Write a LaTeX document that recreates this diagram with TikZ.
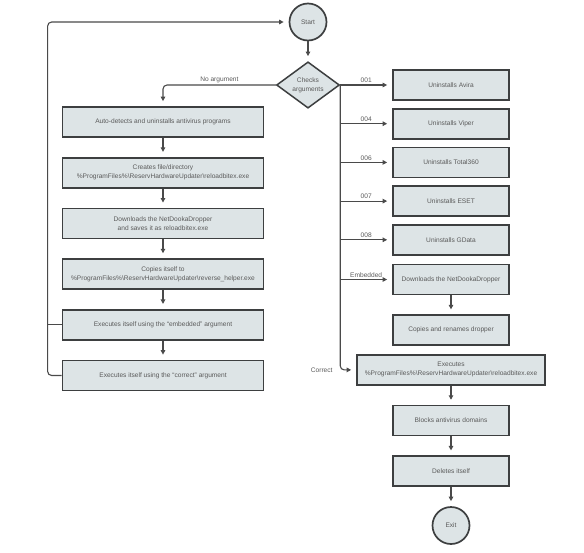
\documentclass[tikz,border=0pt]{standalone}
\usepackage{fontspec}
\setmainfont{Liberation Sans}
\usepackage{tikz}
\usetikzlibrary{arrows.meta,positioning,shapes.geometric}
\definecolor{boxline}{HTML}{3D3F40}
\definecolor{boxfill}{HTML}{DDE4E6}
\definecolor{linegray}{HTML}{4A4A4A}
\definecolor{txtgray}{HTML}{5A5A5A}
\newcommand{\tinyfont}{\fontsize{6.6}{9}\selectfont}
\tikzset{
  box/.style={
    rectangle,
    draw=boxline,
    fill=boxfill,
    line width=1.7pt,
    minimum width=201pt,
    minimum height=30pt,
    inner sep=1pt,
    align=center,
    text=txtgray,
    font=\tinyfont
  },
  smallbox/.style={box, minimum width=116pt},
  widebox/.style={box, minimum width=188pt},
  terminal/.style={
    circle,
    draw=boxline,
    fill=boxfill,
    line width=1.7pt,
    minimum size=37pt,
    inner sep=0pt,
    text=txtgray,
    font=\tinyfont
  },
  decision/.style={
    diamond,
    draw=boxline,
    fill=boxfill,
    line width=1.5pt,
    minimum width=63pt,
    minimum height=41pt,
    inner sep=0pt,
    align=center,
    text=txtgray,
    font=\tinyfont
  },
  lbl/.style={inner sep=1.5pt, text=txtgray, font=\tinyfont},
  link/.style={line width=1.1pt, draw=linegray},
  arrow/.style={link, -{Triangle[length=4.5pt,width=4.5pt]}, shorten >=5pt}
}

\begin{document}
\begin{tikzpicture}[x=1pt, y=1pt, node distance=19pt]
\useasboundingbox (0,0) rectangle (584,-552);

\node[terminal] (start) at (308,-22) {Start};
\node[decision] (chk) at (308,-85) {Checks\\arguments};

% left branch
\node[box] (auto) at (163,-122) {Auto-detects and uninstalls antivirus programs};
\node[box, below=of auto] (create) {Creates file/directory\\\%ProgramFiles\%\textbackslash ReservHardwareUpdater\textbackslash reloadbitex.exe};
\node[box, below=of create] (ldown) {Downloads the NetDookaDropper\\and saves it as reloadbitex.exe};
\node[box, below=of ldown] (lcopy) {Copies itself to\\\%ProgramFiles\%\textbackslash ReservHardwareUpdater\textbackslash reverse\_helper.exe};
\node[box, below=of lcopy] (exe) {Executes itself using the “embedded” argument};
\node[box, below=of exe] (exc) {Executes itself using the “correct” argument};

% right branch
\node[smallbox] (avira) at (451,-85) {Uninstalls Avira};
\node[smallbox, below=7pt of avira] (viper) {Uninstalls Viper};
\node[smallbox, below=7pt of viper] (total) {Uninstalls Total360};
\node[smallbox, below=7pt of total] (eset) {Uninstalls ESET};
\node[smallbox, below=7pt of eset] (gdata) {Uninstalls GData};
\node[smallbox, below=8pt of gdata] (rdown) {Downloads the NetDookaDropper};
\node[smallbox, below=of rdown] (rcopy) {Copies and renames dropper};
\node[widebox, below=8pt of rcopy] (rexec) {Executes\\\%ProgramFiles\%\textbackslash ReservHardwareUpdater\textbackslash reloadbitex.exe};
\node[smallbox, below=of rexec] (blocks) {Blocks antivirus domains};
\node[smallbox, below=of blocks] (deletes) {Deletes itself};
\node[terminal, below=of deletes] (exit) {Exit};

\draw[arrow] (start) -- (chk);
\draw[arrow, rounded corners=4pt] (chk.west) -| node[lbl, pos=0.25, above] {No argument} (auto.north);
\draw[arrow] (auto) -- (create);
\draw[arrow] (create) -- (ldown);
\draw[arrow] (ldown) -- (lcopy);
\draw[arrow] (lcopy) -- (exe);
\draw[arrow] (exe) -- (exc);

% loop back to start
\coordinate (loop) at ([xshift=-14pt]exc.west);
\draw[arrow, rounded corners=4pt] (exc.west) -- (loop) |- (start.west);
\draw[link] (exe.west) -- (exe.west -| loop);

% argument switch
\draw[arrow] (chk.east) -- node[lbl, above] {001} (avira.west);
\draw[arrow, rounded corners=4pt] (chk.east) |- (rexec.west);
\foreach \n/\t in {viper/004, total/006, eset/007, gdata/008, rdown/Embedded}
  \draw[arrow] (chk.east |- \n.west) -- node[lbl, above] {\t} (\n.west);
\node[lbl, anchor=east] (lcorrect) at ([xshift=-6pt]chk.east |- rexec.west) {Correct};

\draw[arrow] (rdown) -- (rcopy);
\draw[arrow] (rexec) -- (blocks);
\draw[arrow] (blocks) -- (deletes);
\draw[arrow] (deletes) -- (exit);

\end{tikzpicture}
\end{document}
